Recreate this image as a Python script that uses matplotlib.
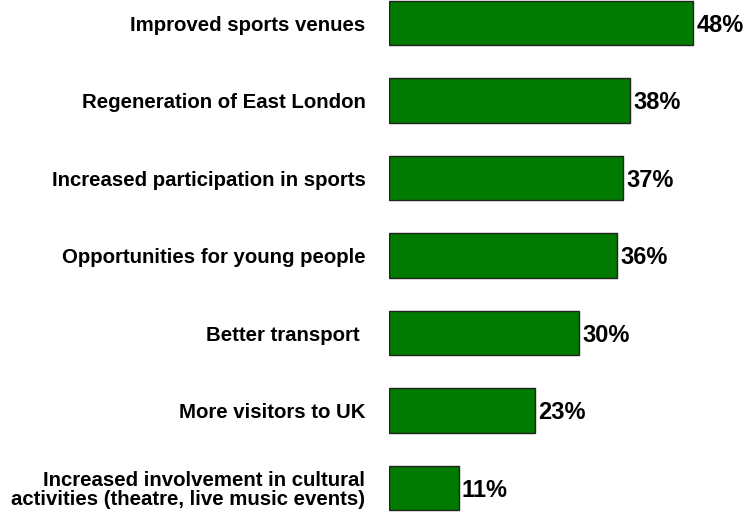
import matplotlib.pyplot as plt
import numpy as np

plt.rcParams['font.family'] = ['Liberation Sans', 'DejaVu Sans']

# Benefits of hosting the games, share of respondents
categories = [
    "Improved sports venues",
    "Regeneration of East London",
    "Increased participation in sports",
    "Opportunities for young people",
    "Better transport ",
    "More visitors to UK",
    "Increased involvement in cultural\nactivities (theatre, live music events)",
]
values = [48, 38, 37, 36, 30, 23, 11]

fig = plt.figure(figsize=(7.47, 5.15), dpi=100)
ax = fig.add_axes([389 / 747, 0, 358 / 747, 1])

pos = np.arange(len(categories))
ax.barh(pos, values, height=0.57, color='#007A00', edgecolor='#222222', linewidth=1)

for y, v in zip(pos, values):
    ax.text(v + 0.5, y + 0.03, f"{v}%", va='center', ha='left',
            fontsize=17, fontweight='bold')

ax.set_yticks(pos)
ax.set_yticklabels(categories, fontsize=14.7, fontweight='bold', ha='right',
                   linespacing=1.0)
ax.tick_params(axis='y', length=0, pad=17)
ax.set_xticks([])
ax.set_xlim(0, 56.5)
ax.set_ylim(6.348, -0.297)
for s in ax.spines.values():
    s.set_visible(False)

fig.savefig('out.png', dpi=100)
